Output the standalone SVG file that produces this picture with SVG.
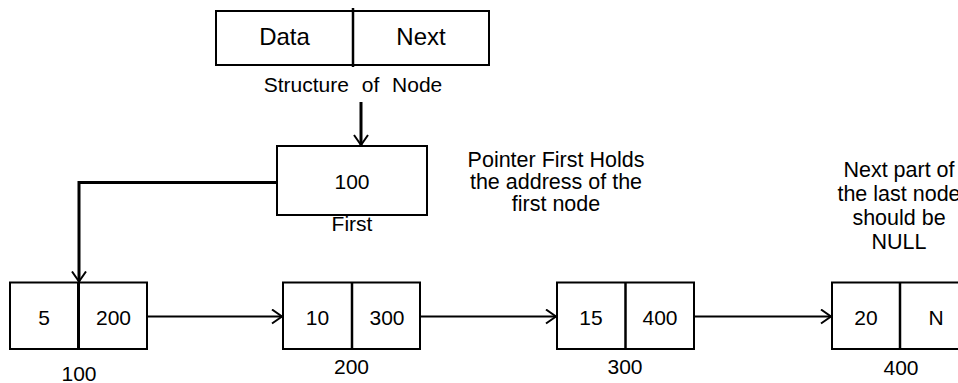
<svg xmlns="http://www.w3.org/2000/svg" width="958" height="383" viewBox="0 0 958 383">
  <style>
    text { font-family: "Liberation Sans", Arial, sans-serif; fill: #000; text-anchor: middle; }
    .t21 { font-size: 21px; }
    .t215 { font-size: 21.5px; }
    .t24 { font-size: 24px; }
    .box { fill: #fff; stroke: #000; stroke-width: 2; }
    .div { stroke: #000; stroke-width: 2.5; }
    .wire { fill: none; stroke: #000; stroke-width: 2; }
    .wire-thick { fill: none; stroke: #000; stroke-width: 3; }
  </style>
  <defs>
    <marker id="vhead" viewBox="0 0 12 16" refX="11" refY="8" markerWidth="12" markerHeight="16" markerUnits="userSpaceOnUse" orient="auto">
      <path d="M1,1 L11,8 L1,15" fill="none" stroke="#000" stroke-width="2"/>
    </marker>
  </defs>
  <rect width="958" height="383" fill="#fff"/>

  <!-- node layout legend -->
  <g id="structure">
    <rect class="box" x="216" y="11" width="273" height="54"/>
    <line class="div" x1="353" y1="8" x2="353" y2="67"/>
    <text class="t24" x="284.5" y="45">Data</text>
    <text class="t24" x="421" y="45">Next</text>
    <text class="t21" x="353" y="91.5" style="word-spacing:7px">Structure of Node</text>
  </g>

  <!-- head pointer -->
  <g id="first">
    <rect class="box" x="277" y="146" width="150" height="69"/>
    <text class="t21" x="352" y="189">100</text>
    <text class="t21" x="352" y="231">First</text>
  </g>

  <g id="note-first">
    <text class="t215" x="556" y="166.5">Pointer First Holds</text>
    <text class="t215" x="556" y="188.5">the address of the</text>
    <text class="t215" x="556" y="210.5">first node</text>
  </g>

  <g id="note-null">
    <text class="t215" x="899" y="177">Next part of</text>
    <text class="t215" x="899" y="201">the last node</text>
    <text class="t215" x="899" y="225">should be</text>
    <text class="t215" x="899" y="249">NULL</text>
  </g>

  <!-- list nodes -->
  <g id="node100">
    <rect class="box" x="10" y="282.5" width="137" height="66.5"/>
    <line class="wire-thick" x1="78.5" y1="282.5" x2="78.5" y2="349"/>
    <text class="t21" x="44" y="324.5">5</text>
    <text class="t21" x="113.5" y="324.5">200</text>
    <text class="t21" x="79" y="381">100</text>
  </g>

  <g id="node200">
    <rect class="box" x="283" y="282.5" width="137" height="66.5"/>
    <line class="div" x1="352" y1="282.5" x2="352" y2="349"/>
    <text class="t21" x="317.5" y="324.5">10</text>
    <text class="t21" x="387" y="324.5">300</text>
    <text class="t21" x="351.5" y="374">200</text>
  </g>

  <g id="node300">
    <rect class="box" x="557" y="282.5" width="137" height="66.5"/>
    <line class="div" x1="625.5" y1="282.5" x2="625.5" y2="349"/>
    <text class="t21" x="591" y="324.5">15</text>
    <text class="t21" x="660" y="324.5">400</text>
    <text class="t21" x="625" y="374">300</text>
  </g>

  <g id="node400">
    <rect class="box" x="832" y="282.5" width="137" height="66.5"/>
    <line class="div" x1="900" y1="282.5" x2="900" y2="349"/>
    <text class="t21" x="866" y="324.5">20</text>
    <text class="t21" x="936" y="324.5">N</text>
    <text class="t21" x="901" y="375">400</text>
  </g>

  <!-- connectors -->
  <g id="connectors">
    <line class="wire-thick" x1="361" y1="102" x2="361" y2="145" marker-end="url(#vhead)"/>
    <polyline class="wire-thick" points="277,182.5 79,182.5 79,281.5" marker-end="url(#vhead)"/>
    <line class="wire" x1="147" y1="316.5" x2="282" y2="316.5" marker-end="url(#vhead)"/>
    <line class="wire" x1="420" y1="316.5" x2="556" y2="316.5" marker-end="url(#vhead)"/>
    <line class="wire" x1="694" y1="316.5" x2="831" y2="316.5" marker-end="url(#vhead)"/>
  </g>
</svg>
